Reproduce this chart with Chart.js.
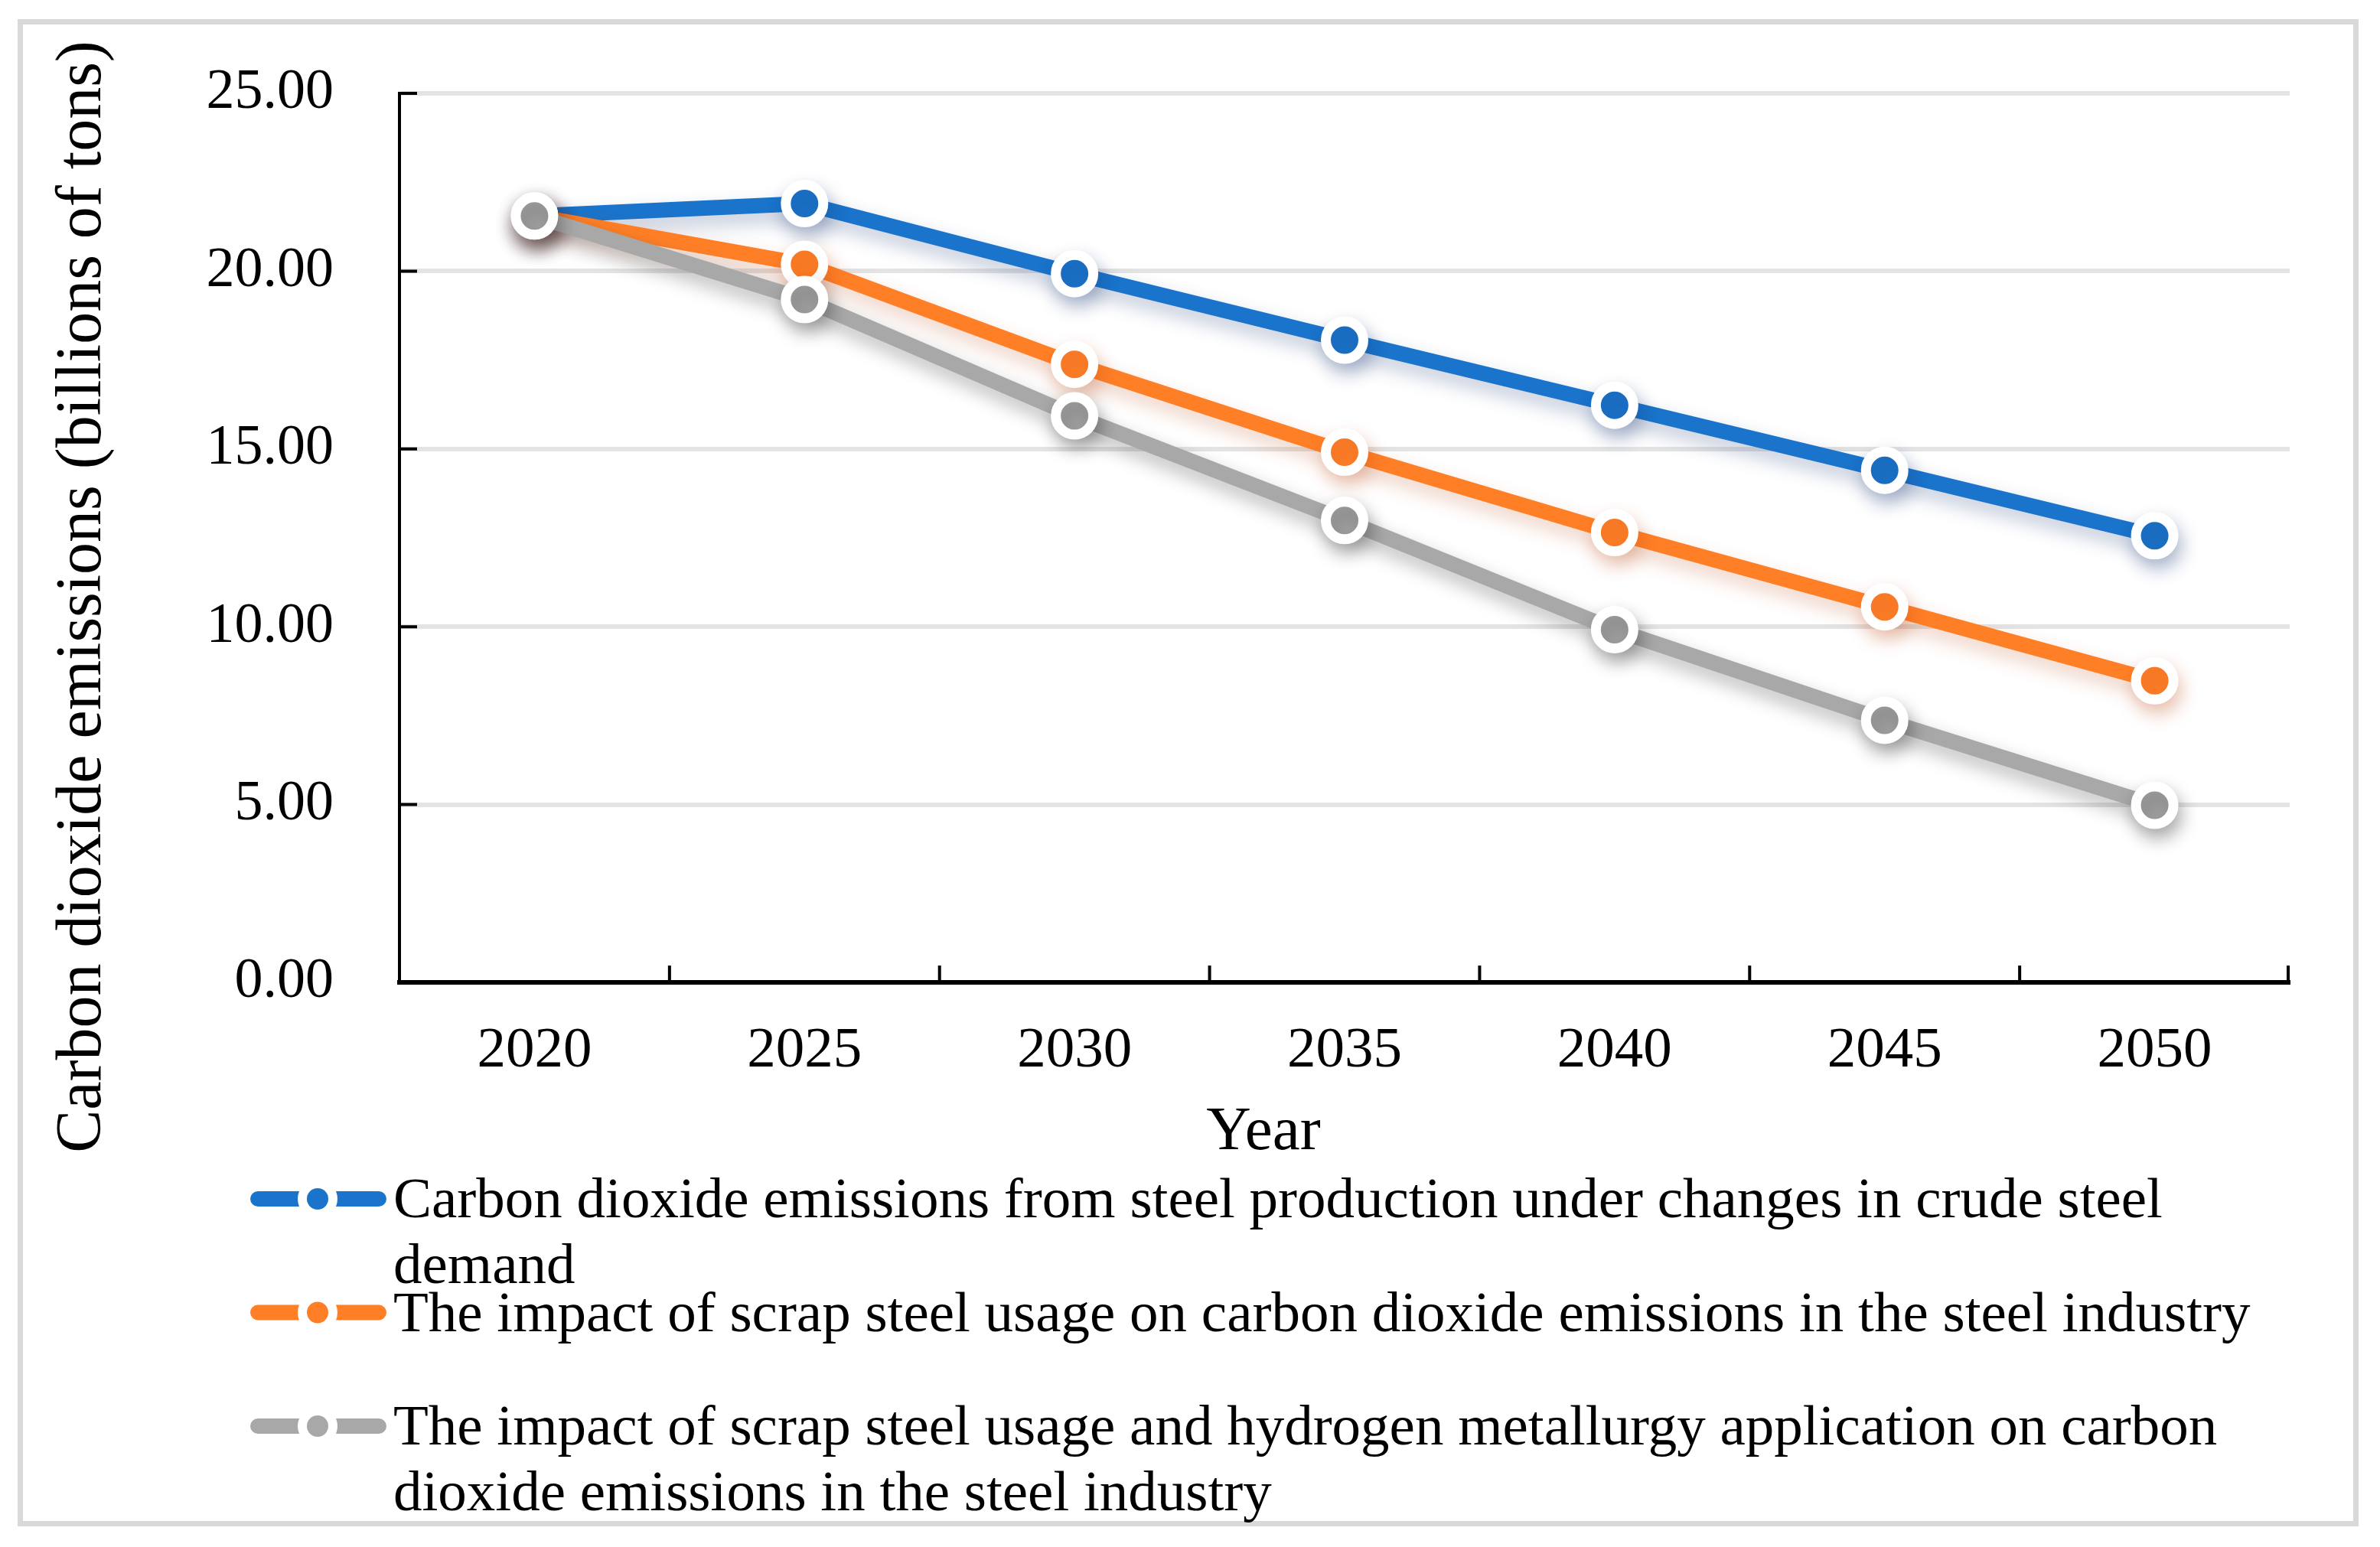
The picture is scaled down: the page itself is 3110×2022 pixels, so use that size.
<!DOCTYPE html>
<html>
<head>
<meta charset="utf-8">
<title>Carbon dioxide emissions</title>
<script src="https://cdn.jsdelivr.net/npm/chart.js@4.4.1/dist/chart.umd.min.js"></script>
<style>
    html, body { margin: 0; padding: 0; background: #fff; }
    canvas { display: block; }
</style>
</head>
<body>
<canvas id="myChart" width="3110" height="2022"></canvas>
<script>
// --- data
const years = ['2020', '2025', '2030', '2035', '2040', '2045', '2050'];
const demandEmissions = [21.55, 21.90, 19.93, 18.06, 16.23, 14.40, 12.56];
const scrapEmissions = [21.55, 20.19, 17.38, 14.91, 12.65, 10.56, 8.48];
const hydrogenEmissions = [21.55, 19.20, 15.93, 12.99, 9.92, 7.37, 4.98];
const seriesNames = [
    'Carbon dioxide emissions from steel production under changes in crude steel demand',
    'The impact of scrap steel usage on carbon dioxide emissions in the steel industry',
    'The impact of scrap steel usage and hydrogen metallurgy application on carbon dioxide emissions in the steel industry'
];
const seriesColors = ['#1a74cb', '#ff7f27', '#a8a8a8'];
const shadowColors = ['rgba(30, 60, 120, 0.30)', 'rgba(190, 80, 30, 0.28)', 'rgba(0, 0, 0, 0.28)'];
const yAxisTitle = 'Carbon dioxide emissions (billions of tons)';
const xAxisTitle = 'Year';

const serif = "'Liberation Serif', 'Times New Roman', serif";

function makeDataset(i, values) {
    return {
        label: seriesNames[i],
        data: values,
        borderColor: seriesColors[i],
        backgroundColor: seriesColors[i],
        borderWidth: 20,
        borderJoinStyle: 'round',
        borderCapStyle: 'round',
        pointRadius: 24.5,
        pointHoverRadius: 24.5,
        pointBorderWidth: 13,
        pointBackgroundColor: seriesColors[i],
        pointBorderColor: '#ffffff',
        tension: 0,
        order: 2 - i // grey drawn last, on top
    };
}

// wraps a legend label into lines no wider than maxWidth
function wrapText(ctx, text, maxWidth) {
    const words = text.split(' ');
    const lines = [];
    let line = '';
    words.forEach(function (w) {
        const test = line ? line + ' ' + w : w;
        if (ctx.measureText(test).width > maxWidth && line) {
            lines.push(line);
            line = w;
        } else {
            line = test;
        }
    });
    if (line) lines.push(line);
    return lines;
}

// frame, soft shadows, inward tick marks, titles and the legend
const excelLook = {
    id: 'excelLook',
    beforeDraw(chart) {
        const ctx = chart.ctx;
        ctx.save();
        ctx.fillStyle = '#ffffff';
        ctx.fillRect(0, 0, chart.width, chart.height);
        ctx.strokeStyle = '#d9d9d9';
        ctx.lineWidth = 7;
        ctx.strokeRect(26.5, 28.5, 3052, 1963);
        ctx.restore();
    },
    beforeDatasetDraw(chart, args) {
        const ctx = chart.ctx;
        ctx.save();
        ctx.shadowColor = shadowColors[args.index];
        ctx.shadowBlur = 24;
        ctx.shadowOffsetX = 4;
        ctx.shadowOffsetY = 12;
    },
    afterDatasetDraw(chart) {
        chart.ctx.restore();
    },
    afterDraw(chart) {
        const ctx = chart.ctx;
        const area = chart.chartArea;
        const xs = chart.scales.x;
        const ys = chart.scales.y;
        ctx.save();

        // tick marks pointing into the plot
        ctx.strokeStyle = '#000';
        ctx.lineWidth = 4;
        ctx.beginPath();
        for (let i = 1; i <= years.length; i++) {
            let px = i < years.length
                ? (xs.getPixelForValue(i - 1) + xs.getPixelForValue(i)) / 2
                : area.right - 2;
            ctx.moveTo(px, area.bottom);
            ctx.lineTo(px, area.bottom - 22);
        }
        ys.ticks.forEach(function (t) {
            const py = ys.getPixelForValue(t.value);
            ctx.moveTo(area.left, py);
            ctx.lineTo(area.left + 23, py);
        });
        ctx.stroke();

        // axis titles
        ctx.fillStyle = '#000';
        ctx.font = '84px ' + serif;
        ctx.textAlign = 'center';
        ctx.textBaseline = 'alphabetic';
        ctx.save();
        ctx.translate(131, 780);
        ctx.rotate(-Math.PI / 2);
        ctx.fillText(yAxisTitle, 0, 0);
        ctx.restore();

        ctx.font = '81px ' + serif;
        ctx.fillText(xAxisTitle, 1651, 1502);

        // legend
        ctx.font = '75px ' + serif;
        ctx.textAlign = 'left';
        chart.data.datasets.forEach(function (ds, i) {
            const base = 1591 + i * 148.5;
            const iy = base - 24;
            ctx.strokeStyle = seriesColors[i];
            ctx.lineWidth = 20;
            ctx.lineCap = 'round';
            ctx.beginPath();
            ctx.moveTo(337, iy);
            ctx.lineTo(495, iy);
            ctx.stroke();
            ctx.fillStyle = '#fff';
            ctx.beginPath();
            ctx.arc(415, iy, 26, 0, Math.PI * 2);
            ctx.fill();
            ctx.fillStyle = seriesColors[i];
            ctx.beginPath();
            ctx.arc(415, iy, 14, 0, Math.PI * 2);
            ctx.fill();

            ctx.fillStyle = '#000';
            wrapText(ctx, ds.label, 2490).forEach(function (line, k) {
                ctx.fillText(line, 514, base + k * 86);
            });
        });
        ctx.restore();
    }
};

const ctx = document.getElementById('myChart');

new Chart(ctx, {
    type: 'line',
    data: {
        labels: years,
        datasets: [
            makeDataset(0, demandEmissions),
            makeDataset(1, scrapEmissions),
            makeDataset(2, hydrogenEmissions)
        ]
    },
    options: {
        responsive: false,
        devicePixelRatio: 1,
        animation: false,
        layout: { padding: { left: 0, top: 122, right: 118, bottom: 588 } },
        plugins: {
            legend: { display: false },
            tooltip: { enabled: false }
        },
        scales: {
            x: {
                offset: true,
                afterFit: function (scale) {
                    scale.height = 150;
                    scale.paddingLeft = 0;
                    scale.paddingRight = 0;
                },
                grid: { display: false, drawTicks: false },
                border: { display: true, color: '#000', width: 6 },
                ticks: {
                    color: '#000',
                    padding: 45,
                    maxRotation: 0,
                    font: { family: serif, size: 75 }
                }
            },
            y: {
                min: 0,
                max: 25,
                afterFit: function (scale) {
                    scale.width = 522;
                    scale.paddingTop = 0;
                    scale.paddingBottom = 0;
                },
                grid: { color: '#e4e4e4', lineWidth: 6, drawTicks: false },
                border: { display: true, color: '#000', width: 4 },
                ticks: {
                    stepSize: 5,
                    color: '#000',
                    padding: 86,
                    font: { family: serif, size: 74 },
                    callback: function (v) { return Number(v).toFixed(2); }
                }
            }
        }
    },
    plugins: [excelLook]
});
</script>
</body>
</html>
